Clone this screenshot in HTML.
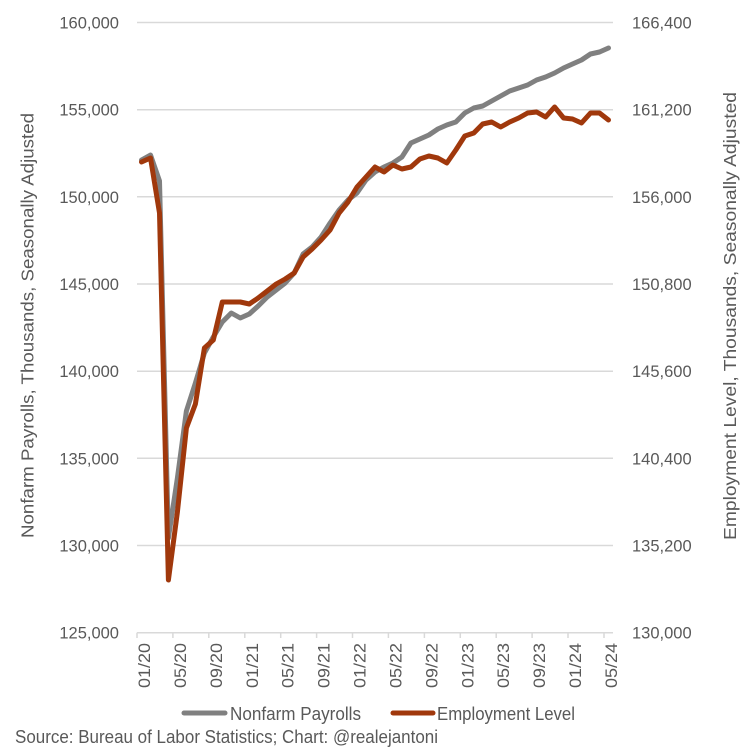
<!DOCTYPE html>
<html>
<head>
<meta charset="utf-8">
<style>
  html, body { margin: 0; padding: 0; background: #ffffff; }
  svg { display: block; }
  text { font-family: "Liberation Sans", Arial, sans-serif; fill: #595959; }
</style>
</head>
<body>
<svg width="750" height="750" viewBox="0 0 750 750" xmlns="http://www.w3.org/2000/svg">
  <rect x="0" y="0" width="750" height="750" fill="#ffffff"/>

  <!-- gridlines -->
  <g stroke="#d9d9d9" stroke-width="1.5">
    <line x1="137" y1="22.5" x2="613" y2="22.5"/>
    <line x1="137" y1="109.7" x2="613" y2="109.7"/>
    <line x1="137" y1="196.8" x2="613" y2="196.8"/>
    <line x1="137" y1="284.0" x2="613" y2="284.0"/>
    <line x1="137" y1="371.2" x2="613" y2="371.2"/>
    <line x1="137" y1="458.3" x2="613" y2="458.3"/>
    <line x1="137" y1="545.5" x2="613" y2="545.5"/>
    <line x1="137" y1="632.7" x2="613" y2="632.7"/>
  </g>
  <!-- x ticks -->
  <g stroke="#d9d9d9" stroke-width="1.5">
    <line x1="137" y1="632.7" x2="137" y2="638"/>
    <line x1="172.9" y1="632.7" x2="172.9" y2="638"/>
    <line x1="208.8" y1="632.7" x2="208.8" y2="638"/>
    <line x1="244.8" y1="632.7" x2="244.8" y2="638"/>
    <line x1="280.7" y1="632.7" x2="280.7" y2="638"/>
    <line x1="316.6" y1="632.7" x2="316.6" y2="638"/>
    <line x1="352.5" y1="632.7" x2="352.5" y2="638"/>
    <line x1="388.4" y1="632.7" x2="388.4" y2="638"/>
    <line x1="424.4" y1="632.7" x2="424.4" y2="638"/>
    <line x1="460.3" y1="632.7" x2="460.3" y2="638"/>
    <line x1="496.2" y1="632.7" x2="496.2" y2="638"/>
    <line x1="532.1" y1="632.7" x2="532.1" y2="638"/>
    <line x1="568.0" y1="632.7" x2="568.0" y2="638"/>
    <line x1="604.0" y1="632.7" x2="604.0" y2="638"/>
  </g>

  <!-- left tick labels -->
  <g font-size="16.5" text-anchor="end">
    <text x="119" y="28.5">160,000</text>
    <text x="119" y="115.7">155,000</text>
    <text x="119" y="202.8">150,000</text>
    <text x="119" y="290.0">145,000</text>
    <text x="119" y="377.2">140,000</text>
    <text x="119" y="464.3">135,000</text>
    <text x="119" y="551.5">130,000</text>
    <text x="119" y="638.7">125,000</text>
  </g>
  <!-- right tick labels -->
  <g font-size="16.5" text-anchor="start">
    <text x="632" y="28.5">166,400</text>
    <text x="632" y="115.7">161,200</text>
    <text x="632" y="202.8">156,000</text>
    <text x="632" y="290.0">150,800</text>
    <text x="632" y="377.2">145,600</text>
    <text x="632" y="464.3">140,400</text>
    <text x="632" y="551.5">135,200</text>
    <text x="632" y="638.7">130,000</text>
  </g>

  <!-- axis titles -->
  <text font-size="17.5" text-anchor="middle" textLength="425" lengthAdjust="spacingAndGlyphs"
        transform="translate(33.5,325.5) rotate(-90)">Nonfarm Payrolls, Thousands, Seasonally Adjusted</text>
  <text font-size="17.5" text-anchor="middle" textLength="448" lengthAdjust="spacingAndGlyphs"
        transform="translate(736,316) rotate(-90)">Employment Level, Thousands, Seasonally Adjusted</text>

  <!-- x labels -->
  <g font-size="16.5" text-anchor="end">
    <text transform="translate(150,643) rotate(-90)" textLength="45" lengthAdjust="spacingAndGlyphs">01/20</text>
    <text transform="translate(185.9,643) rotate(-90)" textLength="45" lengthAdjust="spacingAndGlyphs">05/20</text>
    <text transform="translate(221.8,643) rotate(-90)" textLength="45" lengthAdjust="spacingAndGlyphs">09/20</text>
    <text transform="translate(257.8,643) rotate(-90)" textLength="45" lengthAdjust="spacingAndGlyphs">01/21</text>
    <text transform="translate(293.7,643) rotate(-90)" textLength="45" lengthAdjust="spacingAndGlyphs">05/21</text>
    <text transform="translate(329.6,643) rotate(-90)" textLength="45" lengthAdjust="spacingAndGlyphs">09/21</text>
    <text transform="translate(365.5,643) rotate(-90)" textLength="45" lengthAdjust="spacingAndGlyphs">01/22</text>
    <text transform="translate(401.4,643) rotate(-90)" textLength="45" lengthAdjust="spacingAndGlyphs">05/22</text>
    <text transform="translate(437.4,643) rotate(-90)" textLength="45" lengthAdjust="spacingAndGlyphs">09/22</text>
    <text transform="translate(473.3,643) rotate(-90)" textLength="45" lengthAdjust="spacingAndGlyphs">01/23</text>
    <text transform="translate(509.2,643) rotate(-90)" textLength="45" lengthAdjust="spacingAndGlyphs">05/23</text>
    <text transform="translate(545.1,643) rotate(-90)" textLength="45" lengthAdjust="spacingAndGlyphs">09/23</text>
    <text transform="translate(581.0,643) rotate(-90)" textLength="45" lengthAdjust="spacingAndGlyphs">01/24</text>
    <text transform="translate(617.0,643) rotate(-90)" textLength="45" lengthAdjust="spacingAndGlyphs">05/24</text>
  </g>

  <!-- Nonfarm Payrolls (gray) -->
  <polyline fill="none" stroke="#808080" stroke-width="5" stroke-linejoin="round" stroke-linecap="round"
    points="141.5,160 150.5,155 159.5,181 168.4,538 177.4,478 186.4,411 195.4,383 204.4,353 213.3,337 222.3,322 231.3,313 240.3,318 249.3,314 258.2,306 267.2,297 276.2,290 285.2,283 294.2,273 303.1,254 312.1,247 321.1,237 330.1,223 339.1,210 348.0,200 357.0,193 366.0,180 375.0,172 384.0,167 392.9,163 401.9,157 410.9,143 419.9,139 428.9,135 437.8,129 446.8,125 455.8,122 464.8,113 473.8,108 482.7,106 491.7,101 500.7,96 509.7,91 518.7,88 527.6,85 536.6,80 545.6,77 554.6,73 563.6,68 572.5,64 581.5,60 590.5,54 599.5,52 608.5,48"/>

  <!-- Employment Level (orange) -->
  <polyline fill="none" stroke="#A0380C" stroke-width="5" stroke-linejoin="round" stroke-linecap="round"
    points="141.5,162 150.5,158 159.5,213 168.4,580 177.4,512 186.4,428 195.4,404 204.4,348 213.3,340 222.3,302 231.3,302 240.3,302 249.3,304 258.2,298 267.2,291 276.2,284 285.2,279 294.2,273 303.1,257 312.1,249 321.1,240 330.1,230 339.1,213 348.0,202 357.0,187 366.0,177 375.0,167 384.0,172 392.9,165 401.9,169 410.9,167 419.9,159 428.9,156 437.8,158 446.8,163 455.8,150 464.8,136 473.8,133 482.7,124 491.7,122 500.7,127 509.7,122 518.7,118 527.6,113 536.6,112 545.6,117 554.6,107 563.6,118 572.5,119 581.5,123 590.5,113 599.5,113 608.5,120"/>

  <!-- legend -->
  <line x1="184" y1="713" x2="225" y2="713" stroke="#808080" stroke-width="5" stroke-linecap="round"/>
  <text x="230" y="720" font-size="18" textLength="131" lengthAdjust="spacingAndGlyphs">Nonfarm Payrolls</text>
  <line x1="393" y1="713" x2="433" y2="713" stroke="#A0380C" stroke-width="5" stroke-linecap="round"/>
  <text x="437" y="720" font-size="18" textLength="138" lengthAdjust="spacingAndGlyphs">Employment Level</text>

  <!-- source -->
  <text x="15" y="743" font-size="18" textLength="423" lengthAdjust="spacingAndGlyphs">Source: Bureau of Labor Statistics; Chart: @realejantoni</text>
</svg>
</body>
</html>
